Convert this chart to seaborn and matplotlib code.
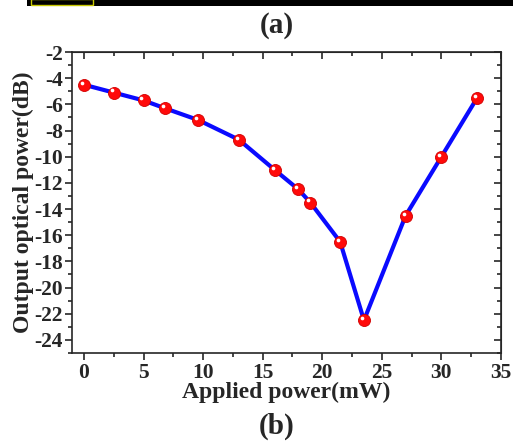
import matplotlib
matplotlib.use("Agg")
import matplotlib.pyplot as plt
import matplotlib.transforms as mtransforms
from matplotlib.patches import Rectangle
from matplotlib.ticker import MultipleLocator
import pandas as pd
import seaborn as sns

applied_power = [0, 2.5, 5, 6.8, 9.6, 13, 16, 18, 19, 21.5, 23.5, 27, 30, 33]
output_power = [-4.5, -5.1, -5.7, -6.3, -7.2, -8.7, -11.0, -12.5, -13.5, -16.5, -22.5, -14.5, -10.0, -5.5]

df = pd.DataFrame({"x": applied_power, "y": output_power})

sns.set_style("ticks")
plt.rcParams['font.family'] = ['Liberation Serif', 'DejaVu Serif']
plt.rcParams['font.weight'] = 'bold'
plt.rcParams['axes.unicode_minus'] = False

fig = plt.figure(figsize=(5.13, 4.42), dpi=100)
ax = fig.add_axes([72 / 513, 89 / 442, 429 / 513, 301 / 442])

sns.lineplot(data=df, x="x", y="y", color="#0a0aff", linewidth=3, ax=ax, zorder=2)
sns.scatterplot(data=df, x="x", y="y", color="#ff0a0a", s=75, edgecolor="#d00000",
                linewidth=0.6, ax=ax, zorder=3)
# little highlight to get the glossy ball look
shine = mtransforms.offset_copy(ax.transData, fig=fig, x=-1.5, y=1.5, units="points")
ax.scatter(df["x"], df["y"], s=7, color="white", transform=shine, zorder=4, linewidths=0)

ax.set_xlim(-1, 35)
ax.set_ylim(-25, -2)
ax.xaxis.set_major_locator(MultipleLocator(5))
ax.xaxis.set_minor_locator(MultipleLocator(2.5))
ax.yaxis.set_major_locator(MultipleLocator(2))
ax.yaxis.set_minor_locator(MultipleLocator(1))
ax.tick_params(which="both", direction="out", top=False, right=False, width=1.2)
ax.tick_params(which="major", length=5, labelsize=15.5)
ax.tick_params(axis="x", which="major", pad=2.5)
ax.tick_params(axis="y", which="major", pad=1.5)
ax.tick_params(which="minor", length=3)
for lab in ax.get_xticklabels() + ax.get_yticklabels():
    lab.set_fontweight("bold")

# inward ticks on top / right spine
secx = ax.secondary_xaxis("top")
secx.xaxis.set_major_locator(MultipleLocator(5))
secx.xaxis.set_minor_locator(MultipleLocator(2.5))
secx.tick_params(which="both", direction="in", labeltop=False, width=1.2)
secx.tick_params(which="major", length=5)
secx.tick_params(which="minor", length=3)
secy = ax.secondary_yaxis("right")
secy.yaxis.set_major_locator(MultipleLocator(2))
secy.yaxis.set_minor_locator(MultipleLocator(1))
secy.tick_params(which="both", direction="in", labelright=False, width=1.2)
secy.tick_params(which="major", length=5)
secy.tick_params(which="minor", length=3)

for sp in ax.spines.values():
    sp.set_linewidth(1.2)
    sp.set_visible(True)

ax.set_xlabel("Applied power(mW)", fontsize=17, fontweight="bold", labelpad=-1)
ax.set_ylabel("Output optical power(dB)", fontsize=17, fontweight="bold", labelpad=0)

fig.text(0.54, 0.943, "(a)", ha="center", va="center", fontsize=21, fontweight="bold")
fig.text(0.54, 0.036, "(b)", ha="center", va="center", fontsize=21, fontweight="bold")

# dark strip at the top of the crop
fig.patches.append(Rectangle((27 / 513, 436 / 442), 1, 6 / 442, transform=fig.transFigure,
                             facecolor="black", edgecolor="none"))
fig.patches.append(Rectangle((31 / 513, 437 / 442), 62 / 513, 6 / 442, transform=fig.transFigure,
                             facecolor="black", edgecolor="#c8c800", linewidth=1))

fig.savefig("out.png", dpi=100)
